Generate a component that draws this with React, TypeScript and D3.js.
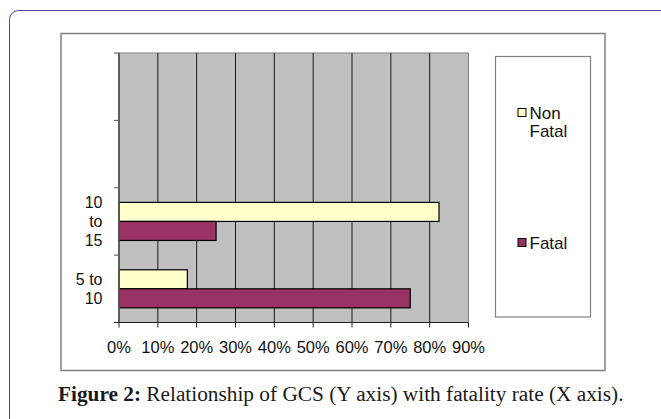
import React, { useEffect, useRef } from "react";
import * as d3 from "d3";

// GCS groups, bottom to top (the two upper slots are empty in the source chart)
const categories = ["5 to 10", "10 to 15", "", ""];
const seriesNames = ["Non Fatal", "Fatal"];
const nonFatal = [17.6, 82.4, null, null];
const fatal = [75, 25, null, null];
const xTicks = [0, 10, 20, 30, 40, 50, 60, 70, 80, 90];

const colors: Record<string, string> = { "Non Fatal": "#FFFFCC", Fatal: "#993366" };

const W = 661;
const H = 419;

const wrapLabel = (text: string, maxW: number, font: string) => {
  const ctx = document.createElement("canvas").getContext("2d")!;
  ctx.font = font;
  const words = text.split(" ");
  const lines: string[] = [];
  let cur = "";
  words.forEach((w) => {
    const t = cur ? cur + " " + w : w;
    if (cur && ctx.measureText(t).width > maxW) {
      lines.push(cur);
      cur = w;
    } else cur = t;
  });
  if (cur) lines.push(cur);
  return lines;
};

const Chart = () => {
  const ref = useRef<SVGSVGElement>(null);

  useEffect(() => {
    const svg = d3.select(ref.current);
    svg.selectAll("*").remove();
    const font = "Liberation Sans, Arial, sans-serif";

    // outer page frame
    svg
      .append("rect")
      .attr("x", 9.5)
      .attr("y", 10.5)
      .attr("width", 720)
      .attr("height", 500)
      .attr("rx", 9)
      .attr("fill", "white")
      .attr("stroke", "#4e4894")
      .attr("stroke-width", 1);

    // chart area frame
    svg
      .append("rect")
      .attr("x", 61)
      .attr("y", 33.5)
      .attr("width", 544)
      .attr("height", 337)
      .attr("fill", "white")
      .attr("stroke", "#808080")
      .attr("stroke-width", 1.5);

    const plot = { left: 119, right: 468.5, top: 53, bottom: 322.5 };

    const x = d3.scaleLinear().domain([0, 90]).range([plot.left, plot.right]);
    const y = d3
      .scaleBand<number>()
      .domain(d3.range(categories.length))
      .range([plot.bottom, plot.top]);
    const inner = d3
      .scaleBand()
      .domain(seriesNames)
      .range([0, y.bandwidth()])
      .paddingInner(0)
      .paddingOuter(0.77);

    const g = svg.append("g");

    g.append("rect")
      .attr("x", plot.left)
      .attr("y", plot.top)
      .attr("width", plot.right - plot.left)
      .attr("height", plot.bottom - plot.top)
      .attr("fill", "#C0C0C0")
      .attr("stroke", "#808080")
      .attr("stroke-width", 1);

    // vertical gridlines
    g.selectAll(".grid")
      .data(xTicks.slice(1, -1))
      .enter()
      .append("line")
      .attr("x1", (d) => x(d))
      .attr("x2", (d) => x(d))
      .attr("y1", plot.top)
      .attr("y2", plot.bottom)
      .attr("stroke", "#1a1a1a")
      .attr("stroke-width", 1);

    // bars
    const rows = categories.map((c, i) => ({ i, vals: [nonFatal[i], fatal[i]] }));
    rows.forEach((r) => {
      r.vals.forEach((v, k) => {
        if (v == null) return;
        const s = seriesNames[k];
        g.append("rect")
          .attr("x", x(0))
          .attr("y", y(r.i)! + inner(s)!)
          .attr("width", x(v) - x(0))
          .attr("height", inner.bandwidth())
          .attr("fill", colors[s])
          .attr("stroke", "#000")
          .attr("stroke-width", 1.2);
      });
    });

    // left axis line + ticks at band boundaries
    g.append("line")
      .attr("x1", plot.left)
      .attr("x2", plot.left)
      .attr("y1", plot.top)
      .attr("y2", plot.bottom)
      .attr("stroke", "#555")
      .attr("stroke-width", 1.8);
    const bounds = d3.range(categories.length + 1).map((i) =>
      i < categories.length ? y(i)! + y.bandwidth() : plot.top
    );
    g.selectAll(".ytick")
      .data(bounds)
      .enter()
      .append("line")
      .attr("x1", plot.left - 5)
      .attr("x2", plot.left)
      .attr("y1", (d) => d)
      .attr("y2", (d) => d)
      .attr("stroke", "#555")
      .attr("stroke-width", 1);

    // bottom axis
    g.append("line")
      .attr("x1", plot.left - 5)
      .attr("x2", plot.right)
      .attr("y1", plot.bottom)
      .attr("y2", plot.bottom)
      .attr("stroke", "#222")
      .attr("stroke-width", 1.2);
    g.selectAll(".xtick")
      .data(xTicks)
      .enter()
      .append("line")
      .attr("x1", (d) => x(d))
      .attr("x2", (d) => x(d))
      .attr("y1", plot.bottom)
      .attr("y2", plot.bottom + 5)
      .attr("stroke", "#222")
      .attr("stroke-width", 1);
    g.selectAll(".xlabel")
      .data(xTicks)
      .enter()
      .append("text")
      .attr("x", (d) => x(d))
      .attr("y", 352.5)
      .attr("text-anchor", "middle")
      .attr("font-family", font)
      .attr("font-size", 16.5)
      .attr("fill", "#111")
      .text((d) => d + "%");

    // category labels, wrapped like Excel does
    categories.forEach((c, i) => {
      if (!c) return;
      const lines = wrapLabel(c, 33, "16px Liberation Sans");
      const lh = 19;
      const cy = y(i)! + y.bandwidth() / 2;
      const t = g
        .append("text")
        .attr("text-anchor", "end")
        .attr("font-family", font)
        .attr("font-size", 16)
        .attr("fill", "#111");
      lines.forEach((ln, k) => {
        t.append("tspan")
          .attr("x", 102.5)
          .attr("y", cy + (k - (lines.length - 1) / 2) * lh + 5.8)
          .text(ln);
      });
    });

    // legend
    svg
      .append("rect")
      .attr("x", 495.5)
      .attr("y", 56.5)
      .attr("width", 95)
      .attr("height", 260.5)
      .attr("fill", "white")
      .attr("stroke", "#808080")
      .attr("stroke-width", 1.2);
    const legendItems = [
      { name: "Non Fatal", lines: ["Non", "Fatal"], y: 108.5 },
      { name: "Fatal", lines: ["Fatal"], y: 238.5 },
    ];
    legendItems.forEach((it) => {
      svg
        .append("rect")
        .attr("x", 518)
        .attr("y", it.y)
        .attr("width", 8)
        .attr("height", 8)
        .attr("fill", colors[it.name])
        .attr("stroke", "#000")
        .attr("stroke-width", 1);
      const t = svg
        .append("text")
        .attr("font-family", font)
        .attr("font-size", 17)
        .attr("fill", "#111");
      it.lines.forEach((ln, k) => {
        t.append("tspan")
          .attr("x", 529.5)
          .attr("y", it.y + 10.2 + k * 18.5)
          .text(ln);
      });
    });

    // caption
    const cap = svg
      .append("text")
      .attr("x", 58)
      .attr("y", 401)
      .attr("font-family", "Liberation Serif, Times New Roman, serif")
      .attr("font-size", 21.3)
      .attr("fill", "#1a1a1a");
    cap.append("tspan").attr("font-weight", "bold").text("Figure 2:");
    cap.append("tspan").text(" Relationship of GCS (Y axis) with fatality rate (X axis).");
  }, []);

  return (
    <svg
      ref={ref}
      width={W}
      height={H}
      style={{ position: "absolute", left: 0, top: 0, background: "white" }}
    ></svg>
  );
};

export default function App() {
  return <Chart />;
}
